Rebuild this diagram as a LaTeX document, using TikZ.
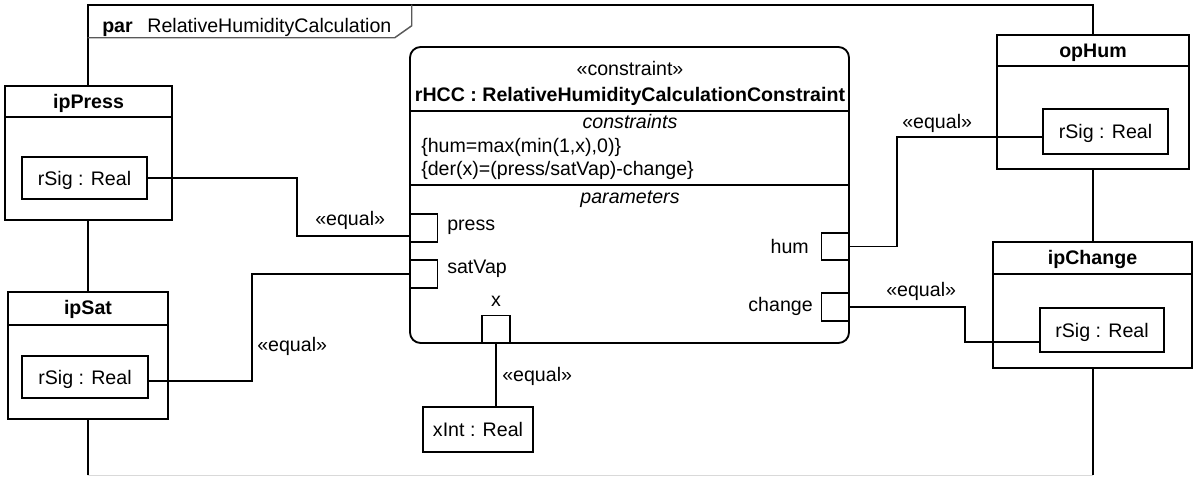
\documentclass[tikz,border=0pt]{standalone}
\usepackage{fontspec}
\setmainfont{Liberation Sans}
\usetikzlibrary{fit,calc}
\begin{document}
\begin{tikzpicture}[x=0.75pt,y=-0.75pt,
  every node/.style={font=\fontsize{14.7}{17.6}\selectfont},
  frameline/.style={line width=1.4pt},
  tabline/.style={line width=1.1pt, draw=black!65},
  conn/.style={line width=1.3pt},
  partbox/.style={draw, fill=white, line width=1.4pt, inner sep=0pt},
  divline/.style={line width=1.4pt},
  portbox/.style={draw, fill=white, line width=1.4pt, inner sep=0pt, minimum width=20.6pt, minimum height=20.6pt},
  lbl/.style={inner sep=0pt, text height=10.5pt, text depth=0pt},
]
\useasboundingbox (0,0) rectangle (1193,476);

% frame
\node[inner sep=0pt, fit={(88,5) (1093,475)}] (frame) {};
\draw[frameline] (frame.south west) -- (frame.north west) -- (frame.north east) -- (frame.south east);
\draw[line width=1pt, black!15] (frame.south west) -- (frame.south east);
\draw[tabline] ($(frame.north west)+(0,33)$) -- ++(307,0) -- ++(17,-12) -- ($(frame.north west)+(324,0)$);
\node[lbl, anchor=west] (title) at (102,25) {\textbf{par}\hspace{11pt}RelativeHumidityCalculation};

% ipPress
\node[partbox, fit={(5,86) (172,220)}] (ipPress) {};
\draw[divline] ($(ipPress.north west)+(0,32)$) -- ($(ipPress.north east)+(0,32)$);
\node[lbl] (ipPressT) at ($(ipPress.north)+(0,16)$) {\bfseries ipPress};
\node[partbox, fit={(22,157) (147,199)}] (pSig) {};
\node[lbl] (pSigT) at (pSig.center) {rSig : Real};

% ipSat
\node[partbox, fit={(8,292) (168,419)}] (ipSat) {};
\draw[divline] ($(ipSat.north west)+(0,34)$) -- ($(ipSat.north east)+(0,34)$);
\node[lbl] (ipSatT) at ($(ipSat.north)+(0,16)$) {\bfseries ipSat};
\node[partbox, fit={(22,356) (148,398)}] (sSig) {};
\node[lbl] (sSigT) at (sSig.center) {rSig : Real};

% opHum
\node[partbox, fit={(997,35) (1189,169)}] (opHum) {};
\draw[divline] ($(opHum.north west)+(0,32)$) -- ($(opHum.north east)+(0,32)$);
\node[lbl] (opHumT) at ($(opHum.north)+(0,16)$) {\bfseries opHum};
\node[partbox, fit={(1043,109) (1168,154)}] (hSig) {};
\node[lbl] (hSigT) at (hSig.center) {rSig : Real};

% ipChange
\node[partbox, fit={(993,242) (1192,368)}] (ipChange) {};
\draw[divline] ($(ipChange.north west)+(0,33)$) -- ($(ipChange.north east)+(0,33)$);
\node[lbl] (ipChangeT) at ($(ipChange.north)+(0,16.5)$) {\bfseries ipChange};
\node[partbox, fit={(1040,308) (1164,352)}] (cSig) {};
\node[lbl] (cSigT) at (cSig.center) {rSig : Real};

% xInt
\node[partbox, fit={(423,407) (533,452)}] (xInt) {};
\node[lbl] (xIntT) at (xInt.center) {xInt : Real};

% constraint block
\node[draw, fill=white, line width=1.4pt, rounded corners=8pt, inner sep=0pt, fit={(410,47) (849,343)}] (rHCC) {};
\draw[divline] ($(rHCC.north west)+(0,65)$) -- ($(rHCC.north east)+(0,65)$);
\draw[divline] ($(rHCC.north west)+(0,139)$) -- ($(rHCC.north east)+(0,139)$);
\node[lbl] (stereo) at (630,68) {«constraint»};
\node[lbl] (bname) at (630,94.7) {\bfseries rHCC : RelativeHumidityCalculationConstraint};
\node[lbl] (cons) at (630,121) {\itshape constraints};
\node[lbl, anchor=west] (c1) at (421,145.3) {\{hum=max(min(1,x),0)\}};
\node[lbl, anchor=west] (c2) at (421,168) {\{der(x)=(press/satVap)-change\}};
\node[lbl] (params) at (630,196.3) {\itshape parameters};

% ports
\node[portbox] (press) at (423.75,228) {};
\node[portbox] (satVap) at (423.75,274) {};
\node[portbox] (hum) at (835.25,246.5) {};
\node[portbox] (change) at (835.25,307) {};
\node[portbox] (xport) at (496,329.25) {};
\node[lbl, anchor=west] (pressT) at (447,223) {press};
\node[lbl, anchor=west] (satVapT) at (447,266) {satVap};
\node[lbl, anchor=east] (humT) at (809,246) {hum};
\node[lbl, anchor=east] (changeT) at (813,304.7) {change};
\node[lbl] (xT) at (496,299.7) {x};

% connectors
\draw[conn] (pSig.east) -- ++(149,0) |- ($(press.west)+(0,8)$);
\draw[conn] ($(sSig.east)+(0,4)$) -- ++(103,0) |- (satVap.west);
\draw[conn] (xport.south) -- (xport.south |- xInt.north);
\draw[conn] (hum.east) -- ++(47,0) |- ($(hSig.west)+(0,5.5)$);
\draw[conn] (change.east) -- ++(115,0) |- ($(cSig.west)+(0,12)$);

% connector labels
\node[lbl, anchor=west] (e1) at (315,218) {«equal»};
\node[lbl, anchor=west] (e2) at (257,344.7) {«equal»};
\node[lbl, anchor=west] (e3) at (502,374.7) {«equal»};
\node[lbl, anchor=west] (e4) at (902,121) {«equal»};
\node[lbl, anchor=west] (e5) at (886,289.7) {«equal»};
\end{tikzpicture}
\end{document}
